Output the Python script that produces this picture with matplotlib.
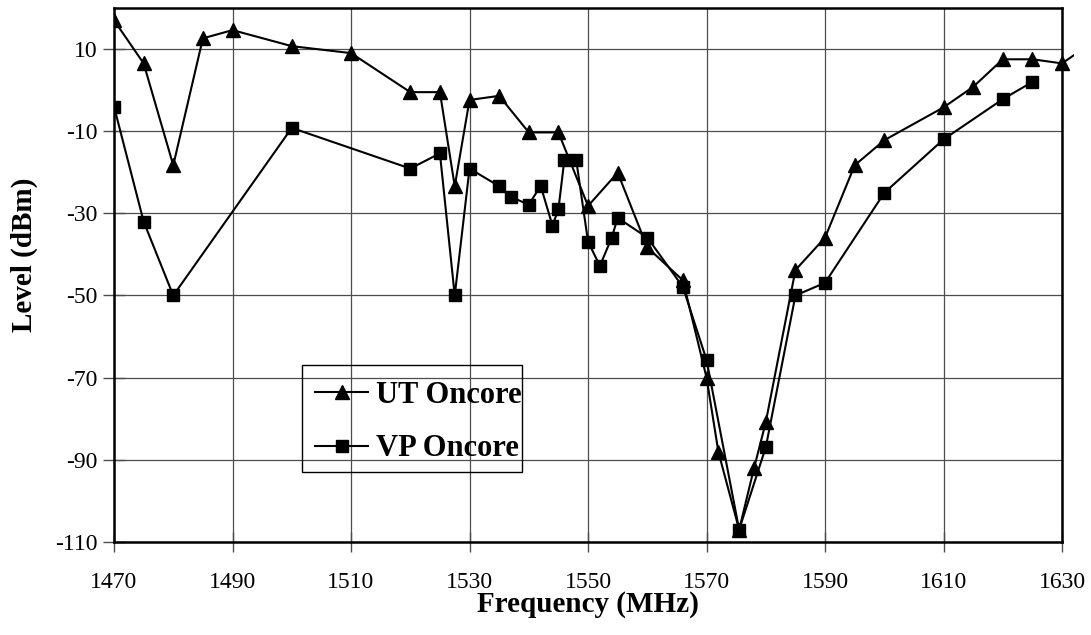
import matplotlib
matplotlib.use("Agg")
import matplotlib.pyplot as plt
from matplotlib.patches import Rectangle

# UT Oncore (triangles); last point lies just past the plot edge
ut_freq = [1470, 1475, 1480, 1485, 1490, 1500, 1510, 1520, 1525, 1527.5, 1530,
           1535, 1540, 1545, 1550, 1555, 1560, 1566, 1570, 1572, 1575.5, 1578,
           1580, 1585, 1590, 1595, 1600, 1610, 1615, 1620, 1625, 1630, 1635]
ut_level = [17, 6.5, -18.3, 12.6, 14.6, 10.7, 9.0, -0.5, -0.5, -23.4, -2.4,
            -1.4, -10.3, -10.3, -28.2, -20.1, -38.3, -46.3, -70, -88.1, -107, -92.1,
            -80.8, -43.8, -35.9, -18.3, -12.2, -4.2, 0.8, 7.5, 7.5, 6.5, 11.5]

# VP Oncore (squares)
vp_freq = [1470, 1475, 1480, 1500, 1520, 1525, 1527.5, 1530, 1535, 1537, 1540,
           1542, 1544, 1545, 1546, 1548, 1550, 1552, 1554, 1555, 1560, 1566,
           1570, 1575.5, 1580, 1585, 1590, 1600, 1610, 1620, 1625]
vp_level = [-4, -32, -50, -9.2, -19.1, -15.4, -50, -19.1, -23.4, -26, -27.9,
            -23.3, -33, -29, -17, -17, -36.9, -42.8, -35.9, -31.1, -35.9, -47.9,
            -65.7, -107, -86.9, -50, -46.9, -25, -12, -2.2, 2]

x_ticks = list(range(1470, 1631, 20))
y_ticks = list(range(-110, 11, 20))

plt.rcParams['font.family'] = ['Liberation Serif', 'DejaVu Serif']
plt.rcParams['axes.unicode_minus'] = False

fig = plt.figure(figsize=(10.91, 6.35), dpi=100)
ax = fig.add_axes([0.1045, 0.1465, 0.869, 0.841])

ln_ut, = ax.plot(ut_freq, ut_level, color='black', lw=1.5, marker='^', ms=10,
                 label='UT Oncore')
ln_vp, = ax.plot(vp_freq, vp_level, color='black', lw=1.5, marker='s', ms=8.5,
                 label='VP Oncore')
# let the UT line run a little past the right edge, as in the original
clip = Rectangle((0, 0), 1.0125, 1, transform=ax.transAxes)
ln_ut.set_clip_path(clip)

ax.set_xlim(1470, 1630)
ax.set_ylim(-110, 20)
ax.set_xticks(x_ticks)
ax.set_yticks(y_ticks)
ax.grid(True, color='0.3', lw=0.9)
ax.set_axisbelow(True)

for s in ax.spines.values():
    s.set_linewidth(1.8)
    s.set_color('black')

ax.tick_params(axis='both', direction='inout', labelsize=17, width=1, color='0.3')
ax.tick_params(axis='y', length=16, pad=4)
ax.tick_params(axis='x', length=14, pad=14.5)

ax.set_xlabel('Frequency (MHz)', fontsize=21, fontweight='bold', labelpad=-1.5)
ax.set_ylabel('Level (dBm)', fontsize=21, fontweight='bold')
ax.yaxis.set_label_coords(-0.080, 0.537)

# legend: transparent, with a tight box drawn around it
leg = ax.legend(loc='center left', bbox_to_anchor=(0.212, 0.2247), borderaxespad=0,
                prop={'size': 22, 'weight': 'bold'}, frameon=False,
                handlelength=1.75, handletextpad=0.25, labelspacing=0.8,
                borderpad=0)
ax.add_patch(Rectangle((0.198, 0.1316), 0.232, 0.2004, transform=ax.transAxes,
                       facecolor='none', edgecolor='black', lw=1.0, zorder=5))

fig.savefig('out.png', dpi=100)
